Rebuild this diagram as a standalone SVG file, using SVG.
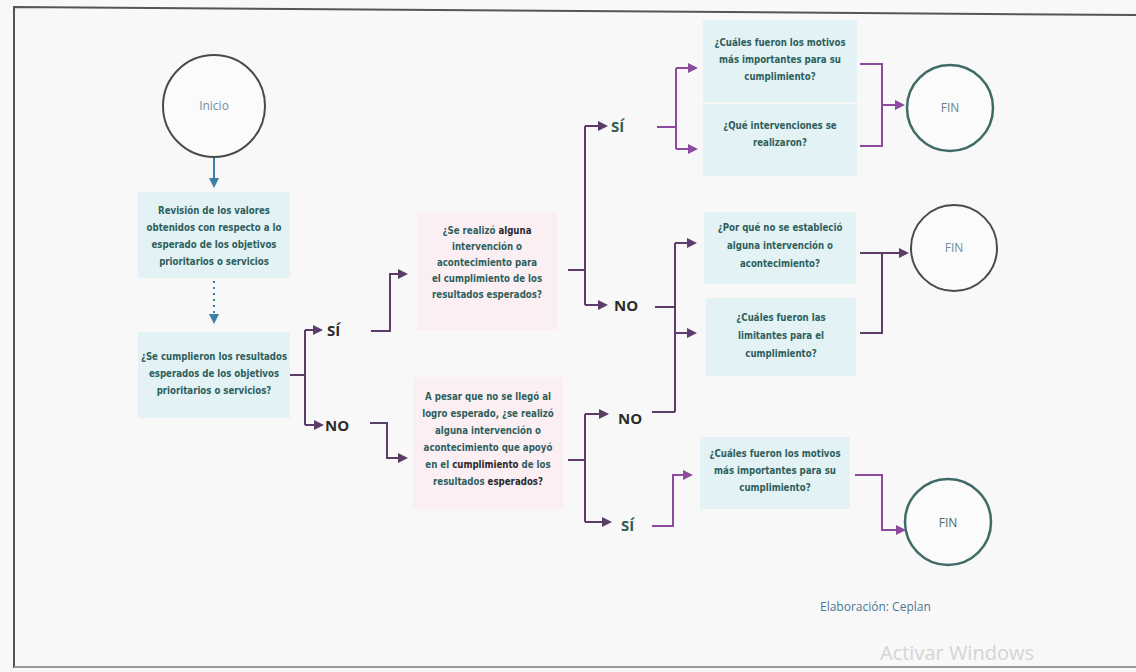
<svg xmlns="http://www.w3.org/2000/svg" width="1136" height="672" viewBox="0 0 1136 672">
<defs>
<style>
.bg{fill:#f8f8f8}
.frame{fill:none;stroke:#555;stroke-width:2}
.boxc{fill:#e2f2f5}
.boxp{fill:#fbeff4}
.q{font-family:"DejaVu Sans Condensed","Liberation Sans",sans-serif;font-weight:bold;font-size:9.6px;fill:#2f5f5c;text-anchor:middle}
.qd{fill:#2a2a2a}
.circ{fill:#fbfbfb;stroke:#4a4a4a;stroke-width:2}
.circt{fill:#fbfbfb;stroke:#3f6b66;stroke-width:2.5}
.ct{font-family:"Open Sans","DejaVu Sans",sans-serif;font-size:12px;fill:#6f8ea0;text-anchor:middle}
.lbl{font-family:"Open Sans","DejaVu Sans",sans-serif;font-weight:bold;font-size:15px;fill:#2b2b2b}
.lblt{fill:#2f5e55}
.cd{fill:none;stroke:#5c3d6a;stroke-width:2}
.cp{fill:none;stroke:#8c4b9e;stroke-width:2}
.cb{fill:none;stroke:#3a7fa6;stroke-width:2}
.note{font-family:"Open Sans","DejaVu Sans",sans-serif;font-size:12px;fill:#4d7796}
.wm{font-family:"Open Sans","DejaVu Sans",sans-serif;font-size:20px;fill:#d4d4d4}
</style>
<marker id="ad" viewBox="0 0 10 10" refX="8" refY="5" markerWidth="5" markerHeight="5" orient="auto"><path d="M0,0 L10,5 L0,10 z" fill="#5c3d6a"/></marker>
<marker id="ap" viewBox="0 0 10 10" refX="8" refY="5" markerWidth="5" markerHeight="5" orient="auto"><path d="M0,0 L10,5 L0,10 z" fill="#8c4b9e"/></marker>
<marker id="ab" viewBox="0 0 10 10" refX="8" refY="5" markerWidth="5" markerHeight="5" orient="auto"><path d="M0,0 L10,5 L0,10 z" fill="#3a7fa6"/></marker>
</defs>
<rect class="bg" x="0" y="0" width="1136" height="672"/>
<path class="frame" d="M14,668 L14,7 L1136,15"/>
<path d="M14,667 L1136,667" stroke="#9a9a9a" stroke-width="2" fill="none"/>

<g id="inicio">
<circle class="circ" cx="214" cy="106" r="51"/>
<text class="ct" x="214" y="110">Inicio</text>
</g>

<g id="revision">
<rect class="boxc" x="138" y="192" width="152" height="86"/>
<text class="q" x="214" y="214">Revisión de los valores</text>
<text class="q" x="214" y="231">obtenidos con respecto a lo</text>
<text class="q" x="214" y="248">esperado de los objetivos</text>
<text class="q" x="214" y="265">prioritarios o servicios</text>
</g>

<g id="cumplieron">
<rect class="boxc" x="138" y="332" width="152" height="86"/>
<text class="q" x="214" y="360">¿Se cumplieron los resultados</text>
<text class="q" x="214" y="377">esperados de los objetivos</text>
<text class="q" x="214" y="394">prioritarios o servicios?</text>
</g>

<g id="realizo">
<rect class="boxp" x="417" y="213" width="140" height="117"/>
<text class="q" x="487" y="234">¿Se realizó <tspan class="qd">alguna</tspan></text>
<text class="q" x="487" y="250">intervención o</text>
<text class="q" x="487" y="266">acontecimiento para</text>
<text class="q" x="487" y="282">el cumplimiento de los</text>
<text class="q" x="487" y="298">resultados esperados?</text>
</g>

<g id="apesar">
<rect class="boxp" x="413" y="377" width="150" height="132"/>
<text class="q" x="488" y="400">A pesar que no se llegó al</text>
<text class="q" x="488" y="417">logro esperado, ¿se realizó</text>
<text class="q" x="488" y="434">alguna intervención o</text>
<text class="q" x="488" y="451">acontecimiento que apoyó</text>
<text class="q" x="488" y="468">en el <tspan class="qd">cumplimiento</tspan> de los</text>
<text class="q" x="488" y="485">resultados <tspan class="qd">esperados?</tspan></text>
</g>

<g id="motivos1">
<rect class="boxc" x="703" y="20" width="154" height="82"/>
<text class="q" x="780" y="46">¿Cuáles fueron los motivos</text>
<text class="q" x="780" y="63">más importantes para su</text>
<text class="q" x="780" y="80">cumplimiento?</text>
</g>

<g id="intervenciones">
<rect class="boxc" x="703" y="104" width="154" height="72"/>
<text class="q" x="780" y="129">¿Qué intervenciones se</text>
<text class="q" x="780" y="146">realizaron?</text>
</g>

<g id="porque">
<rect class="boxc" x="704" y="212" width="152" height="72"/>
<text class="q" x="780" y="231">¿Por qué no se estableció</text>
<text class="q" x="780" y="249">alguna intervención o</text>
<text class="q" x="780" y="267">acontecimiento?</text>
</g>

<g id="limitantes">
<rect class="boxc" x="706" y="298" width="150" height="78"/>
<text class="q" x="781" y="321">¿Cuáles fueron las</text>
<text class="q" x="781" y="339">limitantes para el</text>
<text class="q" x="781" y="357">cumplimiento?</text>
</g>

<g id="motivos2">
<rect class="boxc" x="700" y="437" width="150" height="72"/>
<text class="q" x="775" y="457">¿Cuáles fueron los motivos</text>
<text class="q" x="775" y="474">más importantes para su</text>
<text class="q" x="775" y="491">cumplimiento?</text>
</g>

<g id="fin1">
<circle class="circt" cx="950" cy="108" r="43"/>
<text class="ct" x="950" y="112" style="fill:#6a7f88">FIN</text>
</g>
<g id="fin2">
<circle class="circ" cx="954" cy="248" r="43"/>
<text class="ct" x="954" y="252">FIN</text>
</g>
<g id="fin3">
<circle class="circt" cx="948" cy="522" r="43"/>
<text class="ct" x="948" y="527" style="fill:#4a6a64">FIN</text>
</g>

<g id="labels">
<text class="lbl" x="327" y="336">SÍ</text>
<text class="lbl" x="325" y="431">NO</text>
<text class="lbl lblt" x="611" y="132">SÍ</text>
<text class="lbl" x="614" y="311">NO</text>
<text class="lbl" x="618" y="424">NO</text>
<text class="lbl lblt" x="621" y="531">SÍ</text>
</g>

<g id="connectors">
<path class="cb" d="M214,158 L214,186" marker-end="url(#ab)"/>
<path class="cb" d="M214,281 L214,322" stroke-dasharray="2,4" marker-end="url(#ab)"/>
<path class="cd" d="M290,375 L305,375"/>
<path class="cd" d="M305,330 L305,425"/>
<path class="cd" d="M305,330 L321,330" marker-end="url(#ad)"/>
<path class="cd" d="M305,425 L322,425" marker-end="url(#ad)"/>
<path class="cd" d="M371,331 L390,331 L390,274 L406,274" marker-end="url(#ad)"/>
<path class="cd" d="M370,423 L387,423 L387,458 L406,458" marker-end="url(#ad)"/>
<path class="cd" d="M568,270 L585,270"/>
<path class="cd" d="M585,126 L585,305"/>
<path class="cd" d="M585,126 L606,126" marker-end="url(#ad)"/>
<path class="cd" d="M585,305 L606,305" marker-end="url(#ad)"/>
<path class="cd" d="M568,460 L585,460"/>
<path class="cd" d="M585,414 L585,522"/>
<path class="cd" d="M585,414 L607,414" marker-end="url(#ad)"/>
<path class="cd" d="M585,522 L610,522" marker-end="url(#ad)"/>
<path class="cp" d="M657,127 L676,127"/>
<path class="cp" d="M676,68 L676,149"/>
<path class="cp" d="M676,68 L696,68" marker-end="url(#ap)"/>
<path class="cp" d="M676,149 L696,149" marker-end="url(#ap)"/>
<path class="cd" d="M655,307 L675,307"/>
<path class="cd" d="M652,412 L675,412"/>
<path class="cd" d="M675,243 L675,412"/>
<path class="cd" d="M675,243 L695,243" marker-end="url(#ad)"/>
<path class="cd" d="M675,333 L695,333" marker-end="url(#ad)"/>
<path class="cp" d="M652,526 L673,526 L673,475 L691,475" marker-end="url(#ap)"/>
<path class="cp" d="M860,64 L882,64 L882,146 L860,146"/>
<path class="cp" d="M882,105 L903,105" marker-end="url(#ap)"/>
<path class="cd" d="M860,253 L882,253 L882,333 L860,333"/>
<path class="cd" d="M882,253 L907,253" marker-end="url(#ad)"/>
<path class="cp" d="M855,475 L882,475 L882,530 L904,530" marker-end="url(#ap)"/>
</g>

<text class="note" x="820" y="611">Elaboración: Ceplan</text>
<text class="wm" x="880" y="660">Activar Windows</text>
</svg>
